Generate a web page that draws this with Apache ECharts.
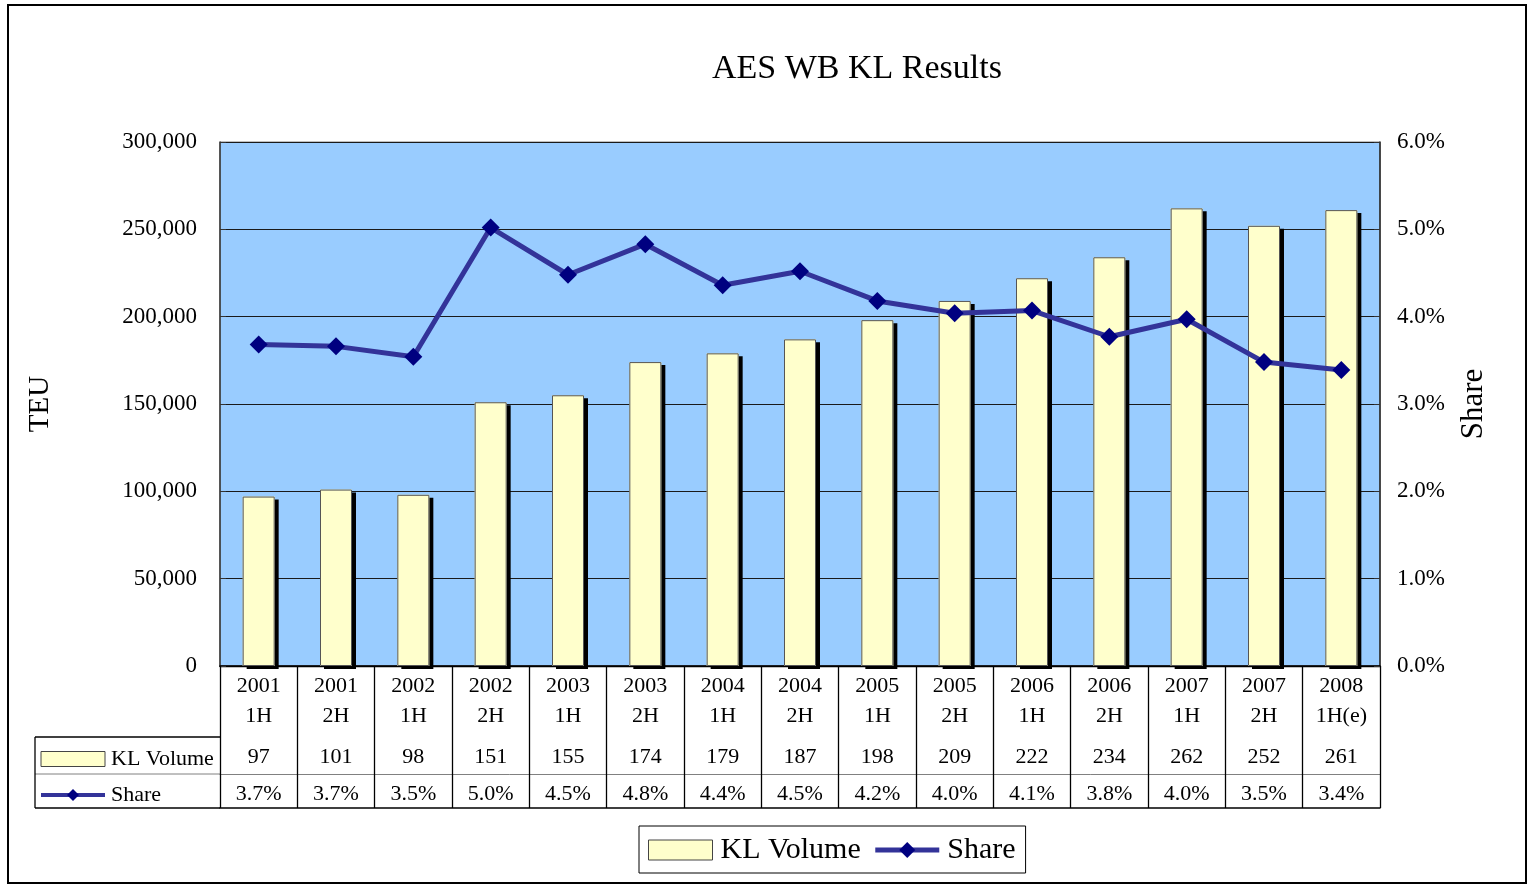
<!DOCTYPE html>
<html>
<head>
<meta charset="utf-8">
<script src="https://cdn.jsdelivr.net/npm/echarts@6/dist/echarts.min.js"></script>
<style>
  html, body { margin: 0; padding: 0; background: #fff; }
  #chart { width: 1532px; height: 885px; }
</style>
</head>
<body>
<div id="chart"></div>
<script>
// ---- data ----
const categories = ['2001\n1H','2001\n2H','2002\n1H','2002\n2H','2003\n1H','2003\n2H','2004\n1H','2004\n2H','2005\n1H','2005\n2H','2006\n1H','2006\n2H','2007\n1H','2007\n2H','2008\n1H(e)'];
const klVolume = [97000, 101000, 98000, 151000, 155000, 174000, 179000, 187000, 198000, 209000, 222000, 234000, 262000, 252000, 261000];
const share = [3.68, 3.66, 3.54, 5.02, 4.48, 4.83, 4.36, 4.52, 4.18, 4.04, 4.07, 3.77, 3.97, 3.48, 3.39];
const volumeTableLabels = ['97','101','98','151','155','174','179','187','198','209','222','234','262','252','261'];
const shareTableLabels = ['3.7%','3.7%','3.5%','5.0%','4.5%','4.8%','4.4%','4.5%','4.2%','4.0%','4.1%','3.8%','4.0%','3.5%','3.4%'];

const FONT = 'Liberation Serif';
const chart = echarts.init(document.getElementById('chart'), null, { renderer: 'canvas' });

const legendData = () => [
  { name: 'KL Volume', icon: 'rect', itemStyle: { borderColor: '#444', borderWidth: 1, shadowColor: 'transparent', shadowOffsetX: 0, shadowOffsetY: 0 } },
  { name: 'Share' }
];

const option = {
  animation: false,
  backgroundColor: '#ffffff',
  textStyle: { fontFamily: FONT, color: '#000' },
  title: {
    text: 'AES WB KL Results',
    left: 707, top: 47,
    textStyle: { fontFamily: FONT, fontSize: 34, fontWeight: 'normal', color: '#000' }
  },
  legend: [
    {
      data: legendData(),
      left: 639, top: 826,
      orient: 'horizontal',
      padding: [9, 10, 8, 9],
      borderColor: '#000', borderWidth: 1,
      itemWidth: 64, itemHeight: 20, itemGap: 12,
      itemStyle: { shadowColor: 'transparent', shadowOffsetX: 0, shadowOffsetY: 0 },
      lineStyle: { width: 5 },
      textStyle: { fontFamily: FONT, fontSize: 30, color: '#000', padding: [4, 0, 0, 3] }
    },
    {
      data: legendData(),
      left: 39, top: 748,
      orient: 'vertical',
      padding: 0,
      itemWidth: 64, itemHeight: 15, itemGap: 14,
      itemStyle: { shadowColor: 'transparent', shadowOffsetX: 0, shadowOffsetY: 0 },
      lineStyle: { width: 4 },
      textStyle: { fontFamily: FONT, fontSize: 22, color: '#000', padding: [0, 0, 0, 1] }
    }
  ],
  grid: {
    left: 220, right: 152, top: 142, height: 524,
    show: true, backgroundColor: '#99CCFF', borderColor: '#808080', borderWidth: 1
  },
  xAxis: [
    {
      type: 'category', data: categories, position: 'bottom', boundaryGap: true,
      axisLine: { show: true, lineStyle: { color: '#000', width: 1.5 } },
      axisTick: { show: true, inside: false, length: 142, interval: 0, lineStyle: { color: '#000', width: 1.3 } },
      axisLabel: { interval: 0, margin: 5, fontFamily: FONT, fontSize: 22, lineHeight: 30, color: '#000' },
      splitLine: { show: false }
    },
    {
      type: 'category', data: volumeTableLabels, position: 'bottom', offset: 71, boundaryGap: true,
      axisLine: { show: true, lineStyle: { color: '#000', width: 1.3 } },
      axisTick: { show: false },
      axisLabel: { interval: 0, margin: 9, fontFamily: FONT, fontSize: 22, color: '#000' }
    },
    {
      type: 'category', data: shareTableLabels, position: 'bottom', offset: 108, boundaryGap: true,
      axisLine: { show: true, lineStyle: { color: '#808080', width: 1 } },
      axisTick: { show: false },
      axisLabel: { interval: 0, margin: 9, fontFamily: FONT, fontSize: 22, color: '#000' }
    },
    {
      type: 'category', data: categories, position: 'bottom', offset: 142, boundaryGap: true,
      axisLine: { show: true, lineStyle: { color: '#000', width: 1.5 } },
      axisTick: { show: false },
      axisLabel: { show: false }
    }
  ],
  yAxis: [
    {
      type: 'value', min: 0, max: 300000, interval: 50000, position: 'left',
      name: 'TEU', nameLocation: 'middle', nameRotate: 90, nameGap: 165,
      nameTextStyle: { fontFamily: FONT, fontSize: 29, color: '#000' },
      axisLine: { show: true, lineStyle: { color: '#333', width: 1.5 } },
      axisTick: { show: true, inside: true, length: 6, lineStyle: { color: '#333' } },
      axisLabel: {
        margin: 23, fontFamily: FONT, fontSize: 23, color: '#000',
        formatter: v => v.toLocaleString('en-US')
      },
      splitLine: { show: true, lineStyle: { color: '#1a1a1a', width: 1 } }
    },
    {
      type: 'value', min: 0, max: 6, interval: 1, position: 'right',
      name: 'Share', nameLocation: 'middle', nameRotate: 90, nameGap: 78,
      nameTextStyle: { fontFamily: FONT, fontSize: 31, color: '#000' },
      axisLine: { show: true, lineStyle: { color: '#222', width: 1.5 } },
      axisTick: { show: true, inside: true, length: 6, lineStyle: { color: '#333' } },
      axisLabel: {
        margin: 17, fontFamily: FONT, fontSize: 23, color: '#000',
        formatter: v => v.toFixed(1) + '%'
      },
      splitLine: { show: false }
    }
  ],
  series: [
    {
      name: 'KL Volume', type: 'bar', xAxisIndex: 0, yAxisIndex: 0,
      data: klVolume, barWidth: 32, barGap: '-100%',
      itemStyle: {
        color: '#FFFFCC', borderWidth: 0,
        shadowColor: '#000', shadowBlur: 0, shadowOffsetX: 4, shadowOffsetY: 3
      },
      z: 2
    },
    {
      name: 'KL Volume outline', type: 'bar', xAxisIndex: 0, yAxisIndex: 0,
      data: klVolume, barWidth: 32, barGap: '-100%', silent: true,
      itemStyle: { color: 'rgba(0,0,0,0)', borderColor: '#555', borderWidth: 1 },
      z: 3
    },
    {
      name: 'Share', type: 'line', xAxisIndex: 0, yAxisIndex: 1,
      data: share,
      symbol: 'diamond', symbolSize: 18,
      lineStyle: { color: '#333399', width: 5 },
      itemStyle: { color: '#000080', borderWidth: 0 },
      z: 5
    }
  ],
  graphic: [
    { type: 'rect', shape: { x: 8, y: 5, width: 1518, height: 878 }, style: { fill: 'none', stroke: '#000', lineWidth: 2 }, silent: true, z: -1 },
    { type: 'line', shape: { x1: 35, y1: 737, x2: 220, y2: 737 }, style: { stroke: '#000', lineWidth: 1.3 }, silent: true },
    { type: 'line', shape: { x1: 35, y1: 774, x2: 220, y2: 774 }, style: { stroke: '#808080', lineWidth: 1 }, silent: true },
    { type: 'line', shape: { x1: 35, y1: 808, x2: 220, y2: 808 }, style: { stroke: '#000', lineWidth: 1.5 }, silent: true },
    { type: 'line', shape: { x1: 35, y1: 737, x2: 35, y2: 808 }, style: { stroke: '#000', lineWidth: 1.3 }, silent: true }
  ]
};
chart.setOption(option);
</script>
</body>
</html>
